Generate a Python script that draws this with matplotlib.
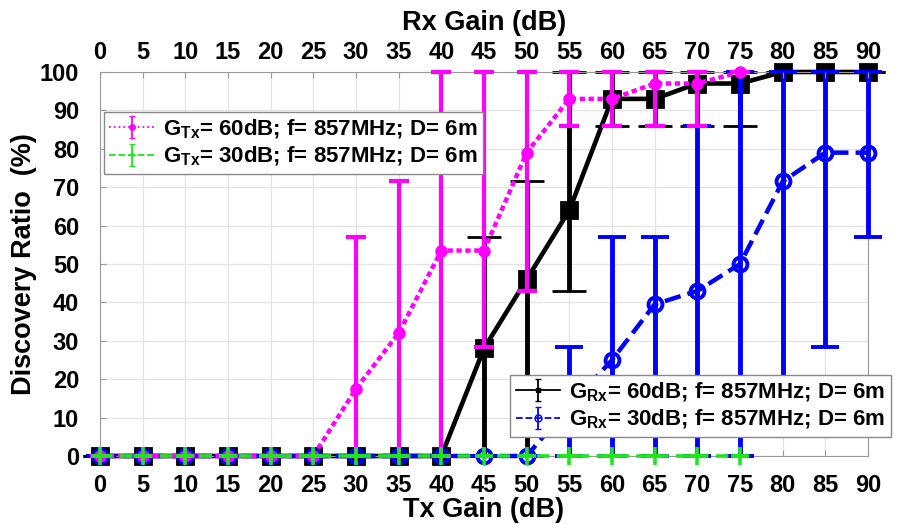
import matplotlib
matplotlib.use('Agg')

import numpy as np
import matplotlib.pyplot as plt

plt.rcParams['font.family'] = ['Liberation Sans', 'DejaVu Sans']
plt.rcParams['font.weight'] = 'bold'
plt.rcParams['mathtext.fontset'] = 'custom'
plt.rcParams['mathtext.rm'] = 'Liberation Sans:bold'
plt.rcParams['mathtext.bf'] = 'Liberation Sans:bold'

# Tx gain sweep (bottom axis), receiver gain fixed
tx_gain = [0, 5, 10, 15, 20, 25, 30, 35, 40, 45, 50, 55, 60, 65, 70, 75, 80, 85, 90]
grx60_mean = [0, 0, 0, 0, 0, 0, 0, 0, 0, 28, 46, 64, 93, 93, 97, 97, 100, 100, 100]
grx60_low = [0, 0, 0, 0, 0, 0, 0, 0, 0, 0, 0, 43, 86, 86, 86, 86, 100, 100, 100]
grx60_high = [0, 0, 0, 0, 0, 0, 0, 0, 0, 57, 71.5, 100, 100, 100, 100, 100, 100, 100, 100]
grx30_mean = [0, 0, 0, 0, 0, 0, 0, 0, 0, 0, 0, 13, 25, 39.5, 43, 50, 71.5, 79, 79]
grx30_low = [0, 0, 0, 0, 0, 0, 0, 0, 0, 0, 0, 0, 0, 0, 0, 0, 14, 28.5, 57]
grx30_high = [0, 0, 0, 0, 0, 0, 0, 0, 0, 0, 0, 28.5, 57, 57, 86, 100, 100, 100, 100]

# Rx gain sweep (top axis), transmitter gain fixed
rx_gain = [0, 5, 10, 15, 20, 25, 30, 35, 40, 45, 50, 55, 60, 65, 70, 75]
gtx60_mean = [0, 0, 0, 0, 0, 0, 17.5, 32, 53.5, 53.5, 79, 93, 93, 97, 97, 100]
gtx60_low = [0, 0, 0, 0, 0, 0, 0, 0, 0, 28.5, 43, 86, 86, 86, 86, 100]
gtx60_high = [0, 0, 0, 0, 0, 0, 57, 71.5, 100, 100, 100, 100, 100, 100, 100, 100]
gtx30_mean = [0, 0, 0, 0, 0, 0, 0, 0, 0, 0, 0, 0, 0, 0, 0, 0]

gain_ticks = np.arange(0, 91, 5)
ratio_ticks = np.arange(0, 101, 10)

lbl_grx60 = r'G$_{\mathrm{Rx}}$= 60dB; f= 857MHz; D= 6m'
lbl_grx30 = r'G$_{\mathrm{Rx}}$= 30dB; f= 857MHz; D= 6m'
lbl_gtx60 = r'G$_{\mathrm{Tx}}$= 60dB; f= 857MHz; D= 6m'
lbl_gtx30 = r'G$_{\mathrm{Tx}}$= 30dB; f= 857MHz; D= 6m'


def err(mean, low, high):
    mean = np.array(mean, dtype=float)
    return [mean - np.array(low), np.array(high) - mean]


def unclip(container):
    for art in container.get_children():
        art.set_clip_on(False)


def legend_proxy(ax, **kw):
    # empty errorbar, only used to get a slim legend entry
    return ax.errorbar([np.nan], [np.nan], yerr=[[1], [1]], **kw)


fig = plt.figure(figsize=(9.07, 5.24), dpi=100)
ax1 = fig.add_axes([100 / 907, 68 / 524, 768 / 907, 384 / 524])

c_black = ax1.errorbar(tx_gain, grx60_mean, yerr=err(grx60_mean, grx60_low, grx60_high),
                       color='black', lw=3.3, marker='s', ms=11, mew=2,
                       elinewidth=3.5, capsize=12, capthick=3.5, zorder=2)
c_blue = ax1.errorbar(tx_gain, grx30_mean, yerr=err(grx30_mean, grx30_low, grx30_high),
                      color='#0000ff', lw=3.2, ls='--', marker='o', ms=10, mew=2.8,
                      mfc='none', elinewidth=3.5, capsize=10, capthick=3.5, zorder=3)
unclip(c_black)
unclip(c_blue)

ax1.set_xlim(0, 90)
ax1.set_ylim(0, 100)
ax1.set_xticks(gain_ticks)
ax1.set_yticks(ratio_ticks)
ax1.grid(True, color='#e3e3e3', lw=0.9)
ax1.set_axisbelow(True)
ax1.tick_params(axis='x', labelsize=17, direction='in', length=4, color='#999999', pad=13)
ax1.tick_params(axis='y', labelsize=17, direction='in', length=4, color='#999999', pad=15)
ax1.set_xlabel('Tx Gain (dB)', fontsize=19.5, fontweight='bold', labelpad=0)
ax1.set_ylabel('Discovery Ratio  (%)', fontsize=19.5, fontweight='bold', labelpad=2)
for sp in ax1.spines.values():
    sp.set_color('#999999')
    sp.set_linewidth(0.8)

ax2 = ax1.twiny()
c_mag = ax2.errorbar(rx_gain, gtx60_mean, yerr=err(gtx60_mean, gtx60_low, gtx60_high),
                     color='#ff00ff', lw=3.2, ls=(0, (1.2, 0.8)), marker='o', ms=8,
                     elinewidth=3, capsize=7, capthick=3, zorder=2)
c_green = ax2.errorbar(rx_gain, gtx30_mean, yerr=np.zeros(len(rx_gain)),
                       color='#1ee61e', lw=2.6, ls=(0, (3.5, 2)), marker='+', ms=13, mew=2.6,
                       elinewidth=2, capsize=5, capthick=2, zorder=3)
unclip(c_mag)
unclip(c_green)

ax2.set_xlim(0, 90)
ax2.set_xticks(gain_ticks)
ax2.tick_params(axis='x', labelsize=17, direction='in', length=4, color='#999999', pad=6)
ax2.set_xlabel('Rx Gain (dB)', fontsize=19.5, fontweight='bold', labelpad=8)
for sp in ax2.spines.values():
    sp.set_visible(False)

p_mag = legend_proxy(ax2, color='#ff00ff', lw=1.3, ls=':', marker='o', ms=4,
                     elinewidth=1.3, capsize=2.5)
p_green = legend_proxy(ax2, color='#1ee61e', lw=1.3, ls='--', marker='+', ms=6,
                       elinewidth=1.3, capsize=2.5)
p_black = legend_proxy(ax2, color='black', lw=1.3, marker='s', ms=2.5,
                       elinewidth=1.3, capsize=2.5)
p_blue = legend_proxy(ax2, color='#0000ff', lw=1.3, ls='--', marker='o', ms=5,
                      mfc='none', elinewidth=1.3, capsize=2.5)

leg_kw = dict(fontsize=16, frameon=True, fancybox=False, framealpha=1,
              edgecolor='#888888', handlelength=2.0, handletextpad=0.4,
              borderpad=0.25, labelspacing=0.2, borderaxespad=0)
leg_top = ax2.legend([p_mag, p_green], [lbl_gtx60, lbl_gtx30], loc='upper left',
                     bbox_to_anchor=(0.005, 0.896), **leg_kw)
ax2.add_artist(leg_top)
ax2.legend([p_black, p_blue], [lbl_grx60, lbl_grx30], loc='upper left',
           bbox_to_anchor=(0.534, 0.211), **leg_kw)

plt.savefig('out.png', dpi=100)
plt.close()
